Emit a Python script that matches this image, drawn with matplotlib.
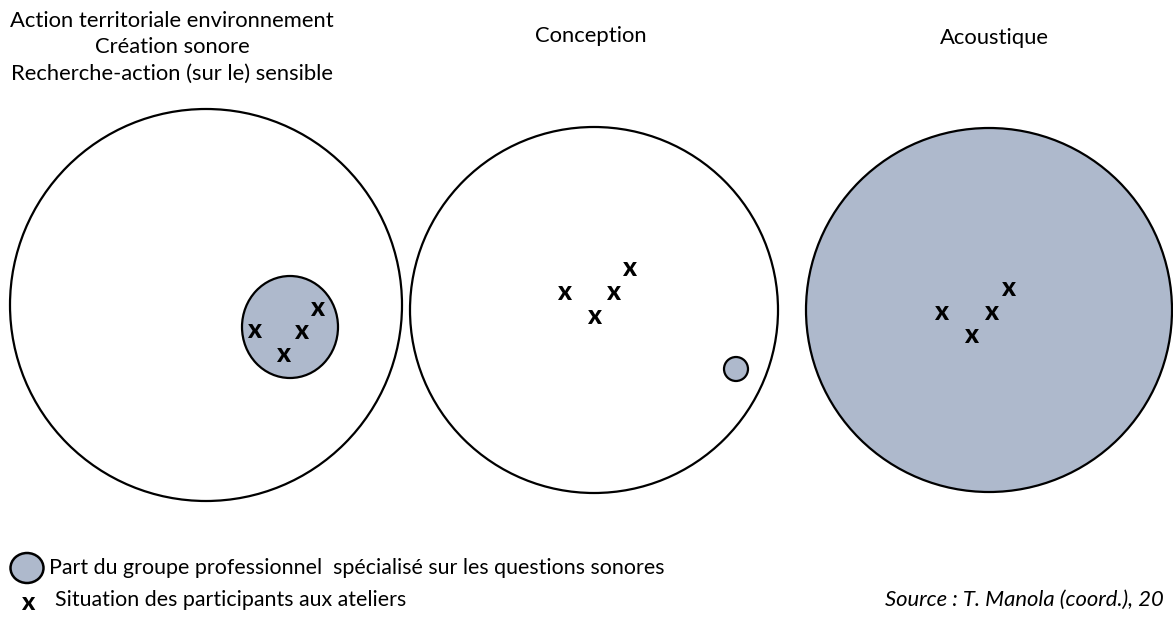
import matplotlib
matplotlib.use("Agg")
import matplotlib.pyplot as plt
from matplotlib.patches import Ellipse

W, H = 1173, 622
FILL = "#aeb9cc"

titles = ["Action territoriale environnement\nCréation sonore\nRecherche-action (sur le) sensible",
          "Conception", "Acoustique"]
title_x = [172, 591, 994]
title_y = [47, 36, 38]

# big circles: centre x, centre y, width, height, filled
big_cx = [206, 594, 989]
big_cy = [305, 310, 310]
big_w = [392, 368, 366]
big_h = [392, 366, 364]
big_filled = [False, False, True]

# small circles (professional group share)
small_cx = [290, 736]
small_cy = [327, 369]
small_w = [96, 24]
small_h = [102, 24]

# participant crosses
cross_x = [254, 283, 301, 317, 564, 594, 613, 629, 941, 971, 991, 1008]
cross_y = [330, 354, 331, 308, 292, 316, 292, 268, 312, 335, 312, 288]

legend_labels = ["Part du groupe professionnel  spécialisé sur les questions sonores",
                 "Situation des participants aux ateliers"]
source_text = "Source : T. Manola (coord.), 20"

fig = plt.figure(figsize=(W / 100, H / 100), dpi=100)
ax = fig.add_axes([0, 0, 1, 1])
ax.set_xlim(0, W)
ax.set_ylim(H, 0)
ax.axis("off")

FONT = "Lato"
FS = 15.8

for cx, cy, w, h, f in zip(big_cx, big_cy, big_w, big_h, big_filled):
    ax.add_patch(Ellipse((cx, cy), w, h, facecolor=FILL if f else "white",
                         edgecolor="black", lw=1.6, zorder=1))
for cx, cy, w, h in zip(small_cx, small_cy, small_w, small_h):
    ax.add_patch(Ellipse((cx, cy), w, h, facecolor=FILL, edgecolor="black", lw=1.6, zorder=2))

for x, y in zip(cross_x, cross_y):
    ax.text(x, y, "x", ha="center", va="center", fontsize=19, fontweight="black",
            family=FONT, zorder=3)

for t, x, y in zip(titles, title_x, title_y):
    ax.text(x, y, t, ha="center", va="center", fontsize=FS, family=FONT,
            linespacing=1.4)

ax.add_patch(Ellipse((27, 568), 33, 30, facecolor=FILL, edgecolor="black", lw=1.8))
ax.text(49, 568, legend_labels[0], ha="left", va="center", fontsize=15.4, family=FONT)
ax.text(28, 602, "x", ha="center", va="center", fontsize=18, fontweight="black", family=FONT)
ax.text(55, 600, legend_labels[1], ha="left", va="center", fontsize=15.4, family=FONT)
ax.text(885, 600, source_text, ha="left", va="center", fontsize=FS, family=FONT,
        style="italic")

fig.savefig("out.png", dpi=100)
